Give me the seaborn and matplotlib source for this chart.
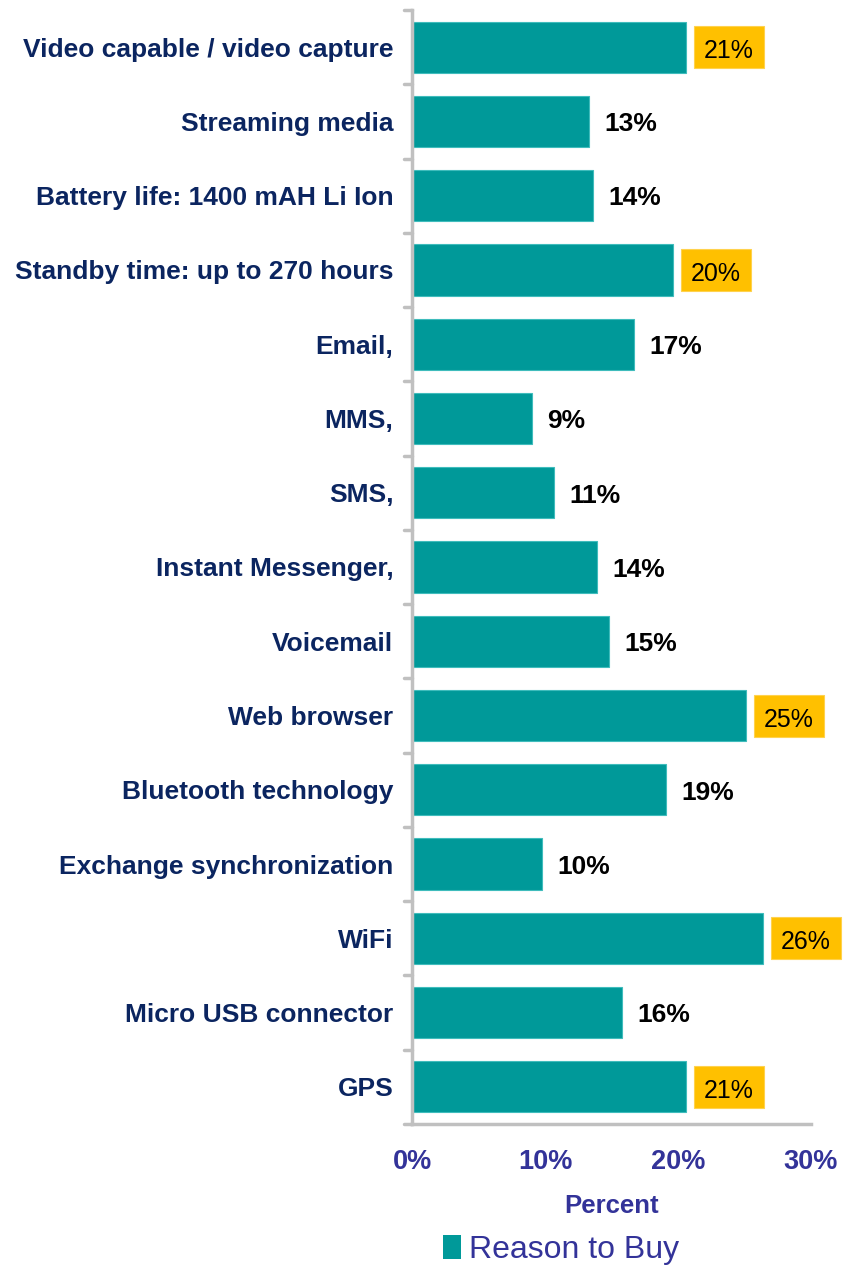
import matplotlib
matplotlib.use("Agg")
import matplotlib.pyplot as plt
import seaborn as sns
import pandas as pd
from matplotlib.patches import Rectangle
from matplotlib.lines import Line2D

features = [
    "Video capable / video capture", "Streaming media", "Battery life: 1400 mAH Li Ion",
    "Standby time: up to 270 hours", "Email,", "MMS,", "SMS,", "Instant Messenger,",
    "Voicemail", "Web browser", "Bluetooth technology", "Exchange synchronization",
    "WiFi", "Micro USB connector", "GPS",
]
percent = [20.6, 13.3, 13.6, 19.6, 16.7, 9.0, 10.7, 13.9, 14.8, 25.1, 19.1, 9.8, 26.4, 15.8, 20.6]
value_labels = ["21%", "13%", "14%", "20%", "17%", "9%", "11%", "14%", "15%",
                "25%", "19%", "10%", "26%", "16%", "21%"]
highlighted = [True, False, False, True, False, False, False, False, False,
               True, False, False, True, False, True]
x_ticks = [0, 10, 20, 30]
x_tick_labels = ["0%", "10%", "20%", "30%"]

df = pd.DataFrame({"Feature": features, "Percent": percent})

sns.set_theme(style="white")
plt.rcParams["font.family"] = ["Liberation Sans", "DejaVu Sans"]

fig = plt.figure(figsize=(8.49, 12.66), dpi=100)
ax = fig.add_axes([412 / 849, 1 - 1124 / 1266, (811 - 412) / 849, (1124 - 10) / 1266])

teal = "#009999"
sns.barplot(data=df, y="Feature", x="Percent", orient="h", color=teal,
            width=0.69, edgecolor="#3fbcbc", linewidth=0.8, ax=ax, saturation=1)

ax.set_xlim(0, 30)
ax.set_ylim(len(features) - 0.5, -0.5)
ax.set_xticks(x_ticks)
ax.set_xticklabels(x_tick_labels, color="#333399", fontsize=19.5, fontweight="bold")
ax.set_xlabel("Percent", color="#333399", fontsize=18.5, fontweight="bold", labelpad=14)
ax.set_ylabel("")
ax.set_yticks(range(len(features)))
ax.set_yticklabels(features, color="#0b2560", fontsize=19, fontweight="bold")
ax.tick_params(axis="y", length=0, pad=13.5)
ax.tick_params(axis="x", length=8, width=2.5, color="#c0c0c0", pad=10, direction="out")

for s in ["top", "right"]:
    ax.spines[s].set_visible(False)
for s in ["left", "bottom"]:
    ax.spines[s].set_color("#c0c0c0")
    ax.spines[s].set_linewidth(2.5)

# category separator ticks on y axis
for b in [i - 0.5 for i in range(len(features) + 1)]:
    ax.add_line(Line2D([-0.6, 0], [b, b], color="#c0c0c0", lw=2.5, clip_on=False,
                       transform=ax.transData))

# value labels
for i, (v, lab, hi) in enumerate(zip(percent, value_labels, highlighted)):
    if hi:
        box = Rectangle((v + 0.6, i - 0.283), 5.26, 0.566, fc="#ffc000", ec="#ffd24d",
                        lw=0.8, clip_on=False)
        ax.add_patch(box)
        ax.text(v + 0.6 + 5.26 / 2, i + 0.02, lab, ha="center", va="center_baseline",
                fontsize=18, color="black")
    else:
        ax.annotate(lab, xy=(v, i), xytext=(11, -2), textcoords="offset points",
                    va="center", ha="left", fontsize=19, color="black", fontweight="bold")

# legend
handle = Rectangle((0, 0), 1, 1, fc=teal, ec="none")
fig.legend([handle], ["Reason to Buy"], loc="center", bbox_to_anchor=(0.661, 1 - 1250 / 1266),
           frameon=False, prop={"size": 23}, labelcolor="#333399",
           handlelength=0.55, handleheight=0.75, handletextpad=0.25)

fig.savefig("out.png", dpi=100)
